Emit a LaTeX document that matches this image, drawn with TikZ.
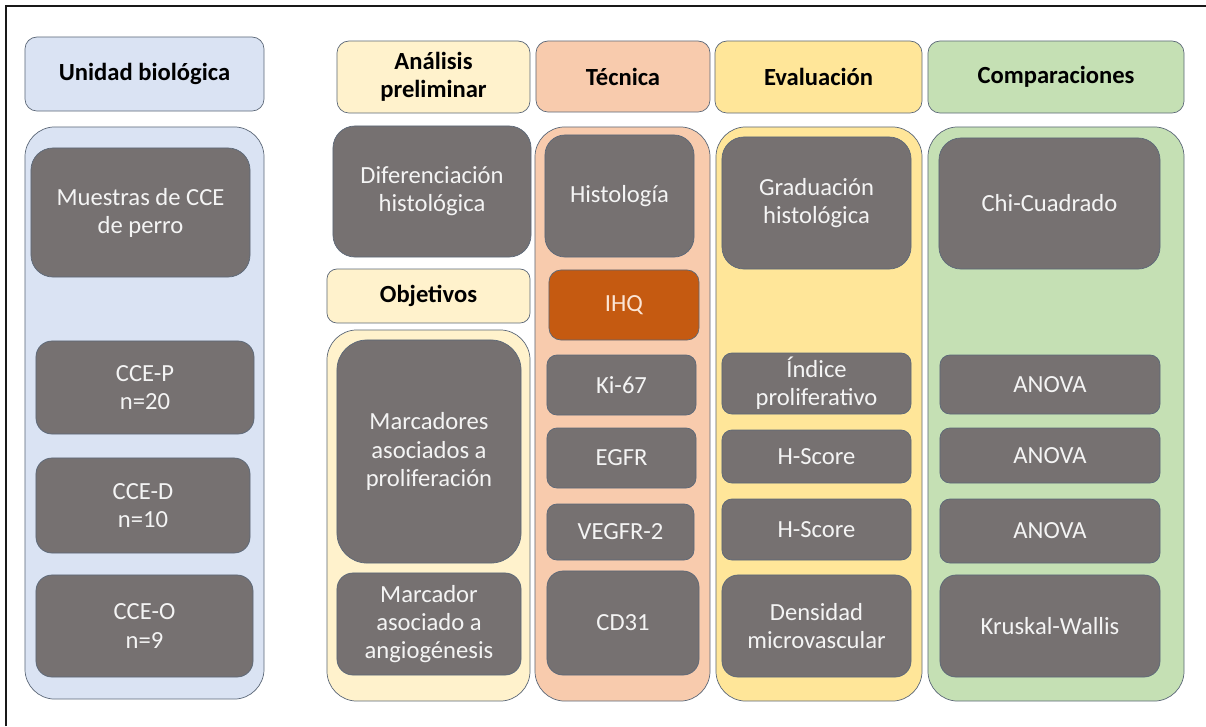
\documentclass[tikz,border=0pt]{standalone}
\usepackage{fontspec}
\setmainfont{Carlito}
\usetikzlibrary{positioning}

\definecolor{bluefill}{HTML}{DAE3F3}
\definecolor{creamfill}{HTML}{FFF2CC}
\definecolor{peachfill}{HTML}{F8CBAD}
\definecolor{yellowfill}{HTML}{FFE699}
\definecolor{greenfill}{HTML}{C5E0B4}
\definecolor{darkfill}{HTML}{767171}
\definecolor{ihqfill}{HTML}{C55A11}
\definecolor{edgegray}{HTML}{5C6878}
\definecolor{lighttext}{HTML}{F4F4F4}
\definecolor{ihqtext}{HTML}{FBE5D6}

\tikzstyle{headstyle} = [rectangle,
inner sep=0pt,
align=center,
draw=edgegray,
line width=0.5pt,
rounded corners=0.3cm,
font=\fontsize{17.5}{20}\selectfont\bfseries]
\tikzstyle{colstyle} = [rectangle,
inner sep=0pt,
draw=edgegray,
line width=0.5pt,
rounded corners=0.75cm]
\tikzstyle{darkstyle} = [rectangle,
inner sep=0pt,
align=center,
draw=edgegray,
line width=0.5pt,
fill=darkfill,
text=lighttext,
rounded corners=0.4cm,
font=\fontsize{17.5}{20}\selectfont]

\begin{document}
\begin{tikzpicture}[x=0.025cm,y=-0.025cm]
\useasboundingbox (0,0) rectangle (1206,726);
\draw [line width=1.4pt, black!90] (6,726) -- (6,6) -- (1206,6);

% column backgrounds
\node (cunidad) [colstyle, fill=bluefill, minimum width=5.975cm, minimum height=14.3cm] at (144.5,413) {};
\node (cobjetivos) [colstyle, fill=creamfill, minimum width=5.075cm, minimum height=9.275cm] at (428.5,515.5) {};
\node (ctecnica) [colstyle, fill=peachfill, minimum width=4.375cm, minimum height=14.35cm] at (622.5,414) {};
\node (cevaluacion) [colstyle, fill=yellowfill, minimum width=5.15cm, minimum height=14.35cm] at (819,414) {};
\node (ccomparaciones) [colstyle, fill=greenfill, minimum width=6.4cm, minimum height=14.35cm] at (1056,414) {};

% headers
\node (hunidad) [headstyle, fill=bluefill, minimum width=5.975cm, minimum height=1.85cm] at (144.5,74) {Unidad biológica};
\node (hanalisis) [headstyle, fill=creamfill, minimum width=4.825cm, minimum height=1.8cm] at (433.5,77) {Análisis\\preliminar};
\node (hobjetivos) [headstyle, fill=creamfill, minimum width=5.075cm, minimum height=1.35cm, rounded corners=0.25cm] at (428.5,296) {Objetivos};
\node (htecnica) [headstyle, fill=peachfill, minimum width=4.35cm, minimum height=1.775cm] at (623,76.5) {Técnica};
\node (hevaluacion) [headstyle, fill=yellowfill, minimum width=5.175cm, minimum height=1.8cm] at (818.5,77) {Evaluación};
\node (hcomparaciones) [headstyle, fill=greenfill, minimum width=6.4cm, minimum height=1.8cm] at (1056,77) {Comparaciones};

% unidad biologica
\node (muestras) [darkstyle, minimum width=5.475cm, minimum height=3.225cm, rounded corners=0.55cm] at (140.5,212.5) {Muestras de CCE\\de perro};
\node (ccep) [darkstyle, minimum width=5.45cm, minimum height=2.325cm] at (145,387.5) {CCE-P\\n=20};
\node (cced) [darkstyle, minimum width=5.35cm, minimum height=2.375cm] at (143,505.5) {CCE-D\\n=10};
\node (cceo) [darkstyle, minimum width=5.425cm, minimum height=2.55cm] at (144.5,626) {CCE-O\\n=9};

% analisis y objetivos
\node (diferenciacion) [darkstyle, minimum width=4.95cm, minimum height=3.275cm, rounded corners=0.55cm] at (432,191.5) {Diferenciación\\histológica};
\node (marcadores) [darkstyle, minimum width=4.6cm, minimum height=5.575cm, rounded corners=0.75cm] at (429,451.5) {Marcadores\\asociados a\\proliferación};
\node (marcador) [darkstyle, minimum width=4.6cm, minimum height=2.55cm] at (429,624) {Marcador\\asociado a\\angiogénesis};

% tecnica
\node (histologia) [darkstyle, minimum width=3.725cm, minimum height=3.05cm, rounded corners=0.5cm] at (619.5,196) {Histología};
\node (ihq) [darkstyle, fill=ihqfill, text=ihqtext, minimum width=3.75cm, minimum height=1.75cm, rounded corners=0.3cm] at (624,305) {IHQ};
\node (ki) [darkstyle, minimum width=3.725cm, minimum height=1.5cm, rounded corners=0.25cm] at (621.5,385) {Ki-67};
\node (egfr) [darkstyle, minimum width=3.725cm, minimum height=1.5cm, rounded corners=0.25cm] at (621.5,458) {EGFR};
\node (vegfr) [darkstyle, minimum width=3.675cm, minimum height=1.4cm, rounded corners=0.25cm] at (620.5,532) {VEGFR-2};
\node (cd) [darkstyle, minimum width=3.8cm, minimum height=2.6cm] at (623,623) {CD31};

% evaluacion
\node (graduacion) [darkstyle, minimum width=4.725cm, minimum height=3.3cm, rounded corners=0.55cm] at (816.5,203) {Graduación\\histológica};
\node (indice) [darkstyle, minimum width=4.725cm, minimum height=1.525cm, rounded corners=0.25cm] at (816.5,383.5) {Índice\\proliferativo};
\node (hscorea) [darkstyle, minimum width=4.725cm, minimum height=1.325cm, rounded corners=0.25cm] at (816.5,456.5) {H-Score};
\node (hscoreb) [darkstyle, minimum width=4.725cm, minimum height=1.525cm, rounded corners=0.25cm] at (816.5,529.5) {H-Score};
\node (densidad) [darkstyle, minimum width=4.725cm, minimum height=2.55cm] at (816.5,626) {Densidad\\microvascular};

% comparaciones
\node (chi) [darkstyle, minimum width=5.525cm, minimum height=3.275cm, rounded corners=0.55cm] at (1049.5,203.5) {Chi-Cuadrado};
\node (anovaa) [darkstyle, minimum width=5.5cm, minimum height=1.475cm, rounded corners=0.25cm] at (1050,384.5) {ANOVA};
\node (anovab) [darkstyle, minimum width=5.5cm, minimum height=1.375cm, rounded corners=0.25cm] at (1050,455.5) {ANOVA};
\node (anovac) [darkstyle, minimum width=5.5cm, minimum height=1.6cm, rounded corners=0.25cm] at (1050,531) {ANOVA};
\node (kruskal) [darkstyle, minimum width=5.5cm, minimum height=2.55cm] at (1050,626) {Kruskal-Wallis};
\end{tikzpicture}
\end{document}
